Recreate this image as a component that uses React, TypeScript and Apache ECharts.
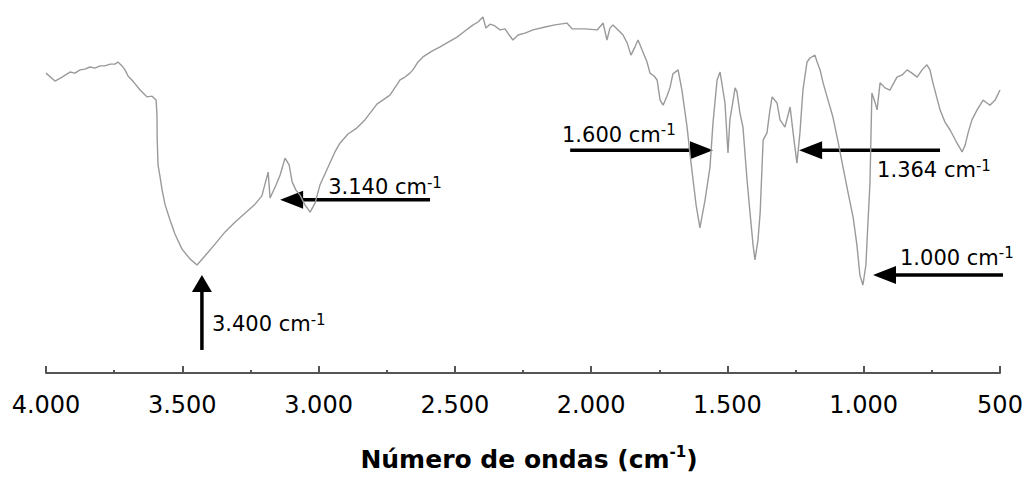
import React, { useEffect, useRef } from 'react';
import * as echarts from 'echarts';

// IR spectrum: wavenumber (cm-1) and transmittance (%)
const wavenumbers = [
  4000, 3967, 3941, 3912, 3894, 3875, 3857, 3839, 3820, 3802,
  3784, 3765, 3747, 3736, 3721, 3710, 3699, 3685, 3673, 3655,
  3629, 3611, 3596, 3593, 3592, 3589, 3582, 3574, 3563, 3545,
  3527, 3501, 3472, 3446, 3417, 3380, 3343, 3307, 3270, 3233,
  3208, 3185, 3178, 3156, 3141, 3123, 3108, 3097, 3083, 3068,
  3050, 3031, 3013, 2995, 2965, 2940, 2921, 2892, 2859, 2830,
  2786, 2738, 2701, 2683, 2665, 2654, 2635, 2617, 2584, 2554,
  2529, 2492, 2463, 2433, 2415, 2397, 2386, 2371, 2353, 2334,
  2316, 2298, 2287, 2268, 2243, 2213, 2169, 2133, 2089, 2070,
  2023, 1978, 1956, 1942, 1931, 1920, 1901, 1883, 1868, 1854,
  1839, 1828, 1813, 1795, 1784, 1769, 1758, 1747, 1736, 1722,
  1711, 1700, 1681, 1667, 1648, 1637, 1626, 1615, 1601, 1582,
  1564, 1553, 1538, 1527, 1509, 1498, 1491, 1483, 1472, 1465,
  1454, 1443, 1428, 1417, 1406, 1399, 1388, 1380, 1369, 1355,
  1344, 1336, 1318, 1307, 1289, 1270, 1259, 1245, 1234, 1223,
  1208, 1197, 1179, 1171, 1160, 1149, 1131, 1113, 1094, 1076,
  1058, 1039, 1025, 1014, 1003, 992, 984, 977, 970, 959,
  951, 940, 922, 904, 878, 859, 841, 823, 804, 786,
  768, 757, 746, 720, 702, 683, 658, 639, 628, 617,
  603, 584, 562, 548, 537, 518, 500,
];

const transmittance = [
  83.3, 81.1, 82.2, 83.6, 83.3, 84.2, 84.4, 85.0, 84.7, 85.3,
  85.3, 85.8, 85.8, 86.4, 85.3, 84.2, 82.5, 81.4, 80.3, 78.6,
  76.7, 76.9, 75.8, 71.7, 64.7, 57.8, 54.7, 50.8, 46.7, 42.5,
  38.6, 34.4, 31.7, 30.0, 32.5, 35.8, 39.2, 41.9, 44.4, 46.9,
  49.2, 55.8, 48.6, 52.2, 55.0, 59.7, 57.8, 53.1, 50.8, 49.4,
  46.7, 44.7, 47.2, 52.2, 57.2, 61.4, 63.9, 66.4, 68.1, 70.3,
  74.7, 77.2, 81.4, 82.2, 83.3, 84.2, 86.4, 87.8, 89.4, 90.6,
  91.7, 93.3, 95.0, 96.7, 97.5, 98.9, 95.8, 96.9, 96.4, 95.3,
  95.6, 93.6, 92.5, 93.9, 94.4, 95.3, 96.1, 96.7, 97.2, 95.6,
  95.6, 95.3, 97.2, 92.5, 95.8, 96.7, 95.3, 93.9, 91.7, 88.3,
  90.6, 92.5, 89.7, 86.4, 83.3, 82.5, 81.4, 75.8, 74.4, 76.9,
  79.2, 83.1, 84.2, 78.6, 68.3, 60.6, 53.6, 46.7, 40.3, 48.1,
  57.2, 69.4, 81.4, 83.6, 75.0, 61.1, 70.3, 73.9, 79.2, 78.1,
  72.2, 68.3, 53.6, 44.4, 35.6, 31.4, 36.9, 44.4, 64.7, 66.7,
  73.1, 76.7, 75.0, 70.3, 68.3, 73.9, 66.7, 58.3, 66.7, 78.6,
  86.4, 87.5, 88.3, 86.4, 84.2, 80.6, 75.8, 71.1, 64.2, 57.2,
  50.3, 43.3, 35.6, 27.2, 24.4, 30.0, 42.5, 52.8, 77.8, 75.3,
  73.1, 80.6, 79.2, 78.6, 82.2, 82.8, 84.2, 83.3, 82.2, 84.2,
  85.6, 84.2, 80.6, 73.1, 69.7, 67.5, 63.9, 61.4, 63.3, 66.7,
  70.3, 73.1, 75.8, 75.0, 74.4, 75.8, 78.6,
];

// Band annotations: label, arrow tip and arrow tail (wavenumber, transmittance)
const bandLabels = ['3.400', '3.140', '1.600', '1.364', '1.000'];
const tipWavenumber = [3428, 3141, 1553, 1237, 966];
const tipTransmittance = [27.2, 48.1, 61.9, 61.9, 27.2];
const tailWavenumber = [3428, 2591, 2077, 720, 489];
const tailTransmittance = [6.4, 48.1, 61.9, 61.9, 27.2];

// Label placement relative to the arrow tip, in pixels
const labelOffsets: [number, number][] = [
  [10, 49],
  [48, -12.5],
  [-151, -15.5],
  [78, 20],
  [27, -17.5],
];

const axisTitle = 'Número de ondas (cm';
const unitExponent = '-1';

const FONT = 'DejaVu Sans';
const LABEL_FONT = `21px "${FONT}"`;
const LABEL_SUP_FONT = `15px "${FONT}"`;
const TITLE_FONT = `bold 25px "${FONT}"`;
const TITLE_SUP_FONT = `bold 15px "${FONT}"`;

function formatWavenumber(v: number): string {
  if (v >= 1000) {
    const th = Math.floor(v / 1000);
    const rest = String(v % 1000).padStart(3, '0');
    return `${th}.${rest}`;
  }
  return String(v);
}

const measureCtx = document.createElement('canvas').getContext('2d');
function textWidth(text: string, font: string): number {
  if (!measureCtx) return text.length * 12;
  measureCtx.font = font;
  return measureCtx.measureText(text).width;
}

export default function App() {
  const ref = useRef<HTMLDivElement>(null);

  useEffect(() => {
    document.body.style.margin = '0';
    if (!ref.current) return;
    const chart = echarts.init(ref.current, undefined, { renderer: 'svg' });

    const spectrum = wavenumbers.map((w, i) => [w, transmittance[i]]);

    chart.setOption({
      animation: false,
      backgroundColor: '#ffffff',
      grid: { left: 46, right: 28, top: 13, bottom: 105, containLabel: false },
      xAxis: {
        type: 'value',
        min: 500,
        max: 4000,
        interval: 500,
        inverse: true,
        axisLine: { show: true, onZero: false, lineStyle: { color: '#555', width: 2 } },
        axisTick: { show: true, inside: true, length: 7, lineStyle: { color: '#555', width: 2 } },
        minorTick: { show: true, splitNumber: 2, length: 3, lineStyle: { color: '#555', width: 2 } },
        splitLine: { show: false },
        axisLabel: {
          margin: 20,
          fontFamily: FONT,
          fontSize: 24,
          color: '#000',
          formatter: (v: number) => formatWavenumber(v),
        },
      },
      yAxis: { type: 'value', min: 0, max: 100, show: false },
      series: [
        {
          type: 'line',
          data: spectrum,
          showSymbol: false,
          symbol: 'none',
          lineStyle: { color: '#9a9a9a', width: 1.4 },
        },
      ],
    });

    const toPx = (p: number[]) => chart.convertToPixel({ gridIndex: 0 }, p) as number[];
    const elements: any[] = [];

    // Arrows with their band labels
    bandLabels.forEach((label, i) => {
      const tip = toPx([tipWavenumber[i], tipTransmittance[i]]);
      const tail = toPx([tailWavenumber[i], tailTransmittance[i]]);
      const dx = tip[0] - tail[0];
      const dy = tip[1] - tail[1];
      const len = Math.hypot(dx, dy) || 1;
      const ux = dx / len;
      const uy = dy / len;
      const vertical = Math.abs(uy) > Math.abs(ux);
      const headLen = vertical ? 17 : 23;
      const headHalf = vertical ? 10 : 9;
      const bx = tip[0] - ux * headLen;
      const by = tip[1] - uy * headLen;
      elements.push({
        type: 'line',
        shape: { x1: tail[0], y1: tail[1], x2: bx + ux * 2, y2: by + uy * 2 },
        style: { stroke: '#000', lineWidth: 3.5 },
      });
      elements.push({
        type: 'polygon',
        shape: {
          points: [
            [tip[0], tip[1]],
            [bx - uy * headHalf, by + ux * headHalf],
            [bx + uy * headHalf, by - ux * headHalf],
          ],
        },
        style: { fill: '#000' },
      });
      const [ox, oy] = labelOffsets[i];
      const lx = tip[0] + ox;
      const ly = tip[1] + oy;
      const main = `${label} cm`;
      elements.push({
        type: 'text',
        x: lx,
        y: ly,
        style: { text: main, font: LABEL_FONT, fill: '#000', textAlign: 'left', textVerticalAlign: 'middle' },
      });
      elements.push({
        type: 'text',
        x: lx + textWidth(main, LABEL_FONT),
        y: ly - 4.5,
        style: { text: unitExponent, font: LABEL_SUP_FONT, fill: '#000', textAlign: 'left', textVerticalAlign: 'middle' },
      });
    });

    // Axis title with superscript exponent
    const gridLeft = toPx([4000, 0])[0];
    const gridRight = toPx([500, 0])[0];
    const axisY = toPx([4000, 0])[1];
    const wMain = textWidth(axisTitle, TITLE_FONT);
    const wSup = textWidth(unitExponent, TITLE_SUP_FONT);
    const wClose = textWidth(')', TITLE_FONT);
    const titleX = (gridLeft + gridRight) / 2 + 6 - (wMain + wSup + wClose) / 2;
    const titleY = axisY + 86;
    elements.push({
      type: 'text',
      x: titleX,
      y: titleY,
      style: { text: axisTitle, font: TITLE_FONT, fill: '#000', textAlign: 'left', textVerticalAlign: 'middle' },
    });
    elements.push({
      type: 'text',
      x: titleX + wMain,
      y: titleY - 7,
      style: { text: unitExponent, font: TITLE_SUP_FONT, fill: '#000', textAlign: 'left', textVerticalAlign: 'middle' },
    });
    elements.push({
      type: 'text',
      x: titleX + wMain + wSup,
      y: titleY,
      style: { text: ')', font: TITLE_FONT, fill: '#000', textAlign: 'left', textVerticalAlign: 'middle' },
    });

    chart.setOption({ graphic: elements });

    return () => chart.dispose();
  }, []);

  return <div ref={ref} style={{ width: 1028, height: 478 }} />;
}
